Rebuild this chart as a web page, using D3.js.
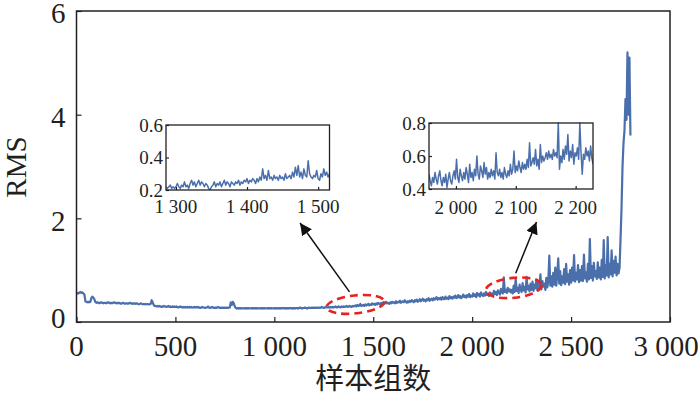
<!DOCTYPE html>
<html>
<head>
<meta charset="utf-8">
<script src="https://cdn.jsdelivr.net/npm/d3@7"></script>
<style>
  body { margin: 0; background: #fff; }
</style>
</head>
<body>
<div id="chart"></div>
<script>
// RMS of each sample group, every 5 groups starting at 0
var mainStart = 0, mainStep = 5;
var rmsMain = [
  0.54,0.56,0.55,0.57,0.58,0.56,0.57,0.55,0.53,0.40, 0.39,0.38,0.39,0.38,0.39,0.46,0.49,0.47,0.44,0.39,
  0.37,0.38,0.37,0.36,0.37,0.38,0.37,0.36,0.37,0.37, 0.36,0.37,0.38,0.37,0.36,0.37,0.36,0.37,0.38,0.37,
  0.36,0.37,0.36,0.37,0.36,0.35,0.36,0.37,0.36,0.35, 0.36,0.36,0.35,0.36,0.37,0.36,0.35,0.36,0.35,0.36,
  0.35,0.36,0.35,0.34,0.35,0.36,0.35,0.34,0.35,0.34, 0.35,0.34,0.35,0.34,0.34,0.35,0.42,0.38,0.33,0.31,
  0.31,0.30,0.31,0.30,0.31,0.30,0.29,0.30,0.31,0.30, 0.30,0.29,0.30,0.31,0.29,0.30,0.29,0.30,0.29,0.30,
  0.29,0.30,0.29,0.28,0.29,0.30,0.29,0.28,0.29,0.28, 0.29,0.28,0.29,0.28,0.29,0.28,0.29,0.28,0.28,0.29,
  0.28,0.29,0.28,0.29,0.28,0.27,0.28,0.29,0.28,0.28, 0.27,0.28,0.28,0.30,0.28,0.27,0.28,0.29,0.28,0.27,
  0.28,0.27,0.28,0.29,0.28,0.27,0.28,0.27,0.28,0.27, 0.28,0.27,0.28,0.27,0.28,0.28,0.38,0.33,0.39,0.36,
  0.30,0.27,0.26,0.27,0.26,0.27,0.26,0.27,0.26,0.26, 0.27,0.26,0.27,0.26,0.27,0.26,0.26,0.27,0.26,0.27,
  0.26,0.27,0.26,0.27,0.26,0.26,0.27,0.26,0.27,0.26, 0.27,0.26,0.26,0.27,0.26,0.27,0.26,0.27,0.26,0.26,
  0.27,0.26,0.27,0.26,0.27,0.26,0.27,0.26,0.27,0.27, 0.26,0.27,0.26,0.27,0.26,0.27,0.27,0.26,0.27,0.26,
  0.27,0.26,0.27,0.27,0.26,0.27,0.28,0.27,0.26,0.27, 0.27,0.28,0.27,0.26,0.27,0.28,0.27,0.27,0.28,0.27,
  0.28,0.27,0.28,0.27,0.28,0.28,0.27,0.28,0.29,0.28, 0.27,0.28,0.29,0.28,0.28,0.29,0.28,0.29,0.28,0.29,
  0.28,0.29,0.30,0.28,0.29,0.30,0.29,0.28,0.30,0.29, 0.30,0.29,0.30,0.31,0.29,0.30,0.31,0.30,0.29,0.31,
  0.30,0.31,0.32,0.30,0.33,0.31,0.32,0.35,0.31,0.32, 0.33,0.31,0.34,0.32,0.33,0.35,0.32,0.34,0.33,0.36,
  0.34,0.35,0.33,0.36,0.34,0.37,0.35,0.34,0.37,0.35, 0.38,0.35,0.36,0.39,0.36,0.37,0.35,0.38,0.36,0.39,
  0.37,0.38,0.36,0.40,0.37,0.39,0.38,0.41,0.37,0.39, 0.40,0.38,0.42,0.39,0.37,0.40,0.38,0.41,0.39,0.42,
  0.40,0.38,0.42,0.40,0.43,0.39,0.41,0.44,0.40,0.42, 0.45,0.41,0.43,0.40,0.44,0.42,0.46,0.41,0.43,0.45,
  0.42,0.46,0.43,0.45,0.48,0.43,0.46,0.44,0.47,0.43, 0.48,0.45,0.44,0.49,0.45,0.47,0.44,0.50,0.46,0.48,
  0.45,0.49,0.47,0.51,0.46,0.48,0.52,0.47,0.50,0.46, 0.49,0.53,0.48,0.51,0.47,0.52,0.49,0.54,0.48,0.51,
  0.49,0.55,0.50,0.53,0.48,0.56,0.51,0.54,0.49,0.57, 0.52,0.50,0.55,0.51,0.58,0.52,0.54,0.50,0.57,0.53,
  0.55,0.51,0.60,0.54,0.58,0.52,0.61,0.56,0.53,0.64, 0.57,0.55,0.86,0.58,0.62,0.56,0.66,0.59,0.63,0.57,
  0.62,0.55,0.70,0.58,0.84,0.60,0.66,0.56,0.72,0.62, 0.58,0.75,0.61,0.68,0.57,0.87,0.63,0.70,0.59,0.74,
  0.62,0.78,0.60,0.72,0.65,0.82,0.61,0.76,0.66,0.92, 0.63,0.79,0.68,0.74,0.62,0.85,0.67,0.80,1.28,0.70,
  0.88,0.68,0.95,0.72,1.05,0.70,0.90,1.23,0.74,0.98, 0.71,0.88,0.76,1.02,0.73,1.12,0.78,0.92,0.72,1.00,
  0.76,1.05,0.80,1.29,0.78,0.95,0.82,1.10,0.77,1.00, 0.80,1.08,0.79,1.30,0.84,0.96,0.78,1.12,0.82,1.60,
  0.85,1.08,0.80,1.14,0.88,0.98,0.83,1.15,0.86,1.05, 0.82,1.20,0.87,1.58,0.84,1.10,0.90,1.64,0.86,1.12,
  0.92,1.38,0.88,1.18,0.95,1.26,0.90,1.12,0.94,1.05, 1.60,2.20,3.00,3.45,3.70,4.30,3.90,5.20,4.00,5.10,
  3.60
];

// zoomed window around 1 300-1 500 (every 2 groups from 1 286)
var zoomAStart = 1286, zoomAStep = 2;
var rmsZoomA = [
  0.22,0.21,0.22,0.23,0.21,0.22,0.21,0.22,0.24,0.22,
  0.21,0.23,0.22,0.25,0.22,0.23,0.21,0.24,0.26,0.23,
  0.25,0.22,0.24,0.26,0.23,0.25,0.24,0.22,0.24,0.23,
  0.21,0.20,0.22,0.23,0.25,0.22,0.24,0.23,0.25,0.22,
  0.24,0.26,0.23,0.25,0.24,0.22,0.25,0.24,0.23,0.25,
  0.24,0.26,0.23,0.25,0.24,0.26,0.25,0.27,0.24,0.26,
  0.25,0.27,0.26,0.24,0.27,0.25,0.28,0.26,0.33,0.27,
  0.29,0.26,0.32,0.27,0.28,0.26,0.29,0.27,0.28,0.26,
  0.29,0.27,0.28,0.26,0.30,0.27,0.28,0.29,0.27,0.31,
  0.28,0.34,0.29,0.35,0.28,0.31,0.27,0.33,0.29,0.28,
  0.38,0.30,0.28,0.27,0.29,0.28,0.32,0.27,0.26,0.30,
  0.28,0.33,0.29,0.31,0.28,0.30
];

// zoomed window around 2 000-2 200 (every 2 groups from 1 955)
var zoomBStart = 1955, zoomBStep = 2;
var rmsZoomB = [
  0.49,0.45,0.42,0.47,0.44,0.50,0.46,0.43,0.48,0.51,
  0.45,0.42,0.47,0.44,0.49,0.41,0.46,0.50,0.45,0.43,
  0.48,0.51,0.46,0.58,0.47,0.44,0.52,0.48,0.45,0.50,
  0.46,0.53,0.49,0.44,0.55,0.47,0.50,0.45,0.52,0.48,
  0.60,0.49,0.46,0.54,0.51,0.47,0.56,0.49,0.53,0.46,
  0.50,0.47,0.52,0.48,0.51,0.46,0.62,0.50,0.48,0.52,
  0.47,0.50,0.46,0.53,0.49,0.47,0.51,0.48,0.55,0.49,
  0.52,0.63,0.50,0.54,0.51,0.57,0.53,0.50,0.56,0.52,
  0.55,0.52,0.58,0.53,0.68,0.54,0.56,0.59,0.55,0.64,
  0.54,0.58,0.52,0.67,0.56,0.60,0.57,0.59,0.62,0.58,
  0.63,0.59,0.61,0.58,0.64,0.60,0.62,0.59,0.80,0.52,
  0.60,0.56,0.64,0.58,0.66,0.61,0.73,0.57,0.63,0.59,
  0.67,0.55,0.62,0.60,0.65,0.58,0.80,0.62,0.49,0.61,
  0.58,0.65,0.60,0.63,0.57,0.66,0.59,0.55
];

var mainXTicks = [0, 500, 1000, 1500, 2000, 2500, 3000];
var mainYTicks = [0, 2, 4, 6];
var zoomAXTicks = [1300, 1400, 1500];
var zoomAYTicks = [0.2, 0.4, 0.6];
var zoomBXTicks = [2000, 2100, 2200];
var zoomBYTicks = [0.4, 0.6, 0.8];

var lineColor = "#4a6fab";
var serif = "Liberation Serif, Times New Roman, serif";
var textColor = "#231f20";
var width = 700, height = 398;

// "1 000" style numbers with a gap for thousands
function fmtThousands(v) {
    var s = String(v);
    if (s.length > 3) s = s.slice(0, s.length - 3) + " " + s.slice(-3);
    return s;
}

var svg = d3.select("#chart").append("svg")
    .attr("width", width)
    .attr("height", height)
    .attr("font-family", serif);

svg.append("defs").append("marker")
    .attr("id", "arrow")
    .attr("viewBox", "0 -5 10 10")
    .attr("refX", 10)
    .attr("refY", 0)
    .attr("markerWidth", 12)
    .attr("markerHeight", 12)
    .attr("markerUnits", "userSpaceOnUse")
    .attr("orient", "auto")
    .append("path")
    .attr("d", "M0,-5L10,0L0,5Z")
    .attr("fill", "#111");

//Draws one framed panel (main chart or inset)
function panel(opt) {
    var x = d3.scaleLinear().domain(opt.xDomain).range([opt.left, opt.right]);
    var y = d3.scaleLinear().domain(opt.yDomain).range([opt.bottom, opt.top]);
    var g = svg.append("g");

    var clipId = "clip" + opt.name;
    g.append("clipPath").attr("id", clipId)
        .append("rect")
        .attr("x", opt.left).attr("y", opt.top - 1)
        .attr("width", opt.right - opt.left).attr("height", opt.bottom - opt.top + 1);

    var line = d3.line()
        .x(function (d, i) { return x(opt.start + i * opt.step); })
        .y(function (d) { return y(d); });

    g.append("path")
        .datum(opt.values)
        .attr("clip-path", "url(#" + clipId + ")")
        .attr("fill", "none")
        .attr("stroke", lineColor)
        .attr("stroke-width", opt.lineWidth)
        .attr("stroke-linejoin", "round")
        .attr("d", line);

    // ticks point inward
    var xAxis = d3.axisTop(x).tickValues(opt.xTicks).tickSize(opt.tickLen).tickFormat("");
    var yAxis = d3.axisRight(y).tickValues(opt.yTicks).tickSize(opt.tickLen).tickFormat("");
    g.append("g").attr("transform", "translate(0," + opt.bottom + ")").call(xAxis)
        .call(function (a) { a.select(".domain").remove(); a.selectAll("line").attr("stroke", textColor).attr("stroke-width", 1.2); });
    g.append("g").attr("transform", "translate(" + opt.left + ",0)").call(yAxis)
        .call(function (a) { a.select(".domain").remove(); a.selectAll("line").attr("stroke", textColor).attr("stroke-width", 1.2); });

    g.append("rect")
        .attr("x", opt.left).attr("y", opt.top)
        .attr("width", opt.right - opt.left).attr("height", opt.bottom - opt.top)
        .attr("fill", "none")
        .attr("stroke", textColor)
        .attr("stroke-width", opt.frameWidth);

    g.selectAll(".xl").data(opt.xTicks).enter().append("text")
        .attr("x", function (d) { return Math.min(x(d), opt.xLabelMax); })
        .attr("y", opt.bottom + opt.xLabelDy)
        .attr("text-anchor", "middle")
        .attr("font-family", serif)
        .attr("font-size", opt.fontSize)
        .attr("fill", textColor)
        .text(fmtThousands);

    g.selectAll(".yl").data(opt.yTicks).enter().append("text")
        .attr("x", opt.left - opt.yLabelDx)
        .attr("y", function (d, i) { return y(d) + (i === 0 ? opt.firstYShift : 0); })
        .attr("dy", opt.yLabelDy)
        .attr("text-anchor", "end")
        .attr("font-family", serif)
        .attr("font-size", opt.fontSize)
        .attr("fill", textColor)
        .text(opt.yFormat);

    return { x: x, y: y };
}

var main = panel({
    name: "main", values: rmsMain, start: mainStart, step: mainStep,
    xDomain: [0, 3000], yDomain: [0, 6],
    left: 76.5, right: 670, top: 11, bottom: 322,
    xTicks: mainXTicks, yTicks: mainYTicks, tickLen: 5,
    lineWidth: 2.2, frameWidth: 1.5, fontSize: 29,
    xLabelDy: 34, xLabelMax: 666, yLabelDx: 11, yLabelDy: "0.42em", firstYShift: -6,
    yFormat: function (d) { return d; }
});

panel({
    name: "a", values: rmsZoomA, start: zoomAStart, step: zoomAStep,
    xDomain: [1286, 1516], yDomain: [0.2, 0.6],
    left: 166, right: 329.5, top: 125, bottom: 190,
    xTicks: zoomAXTicks, yTicks: zoomAYTicks, tickLen: 3,
    lineWidth: 1.5, frameWidth: 1.3, fontSize: 19,
    xLabelDy: 23, xLabelMax: 999, yLabelDx: 3, yLabelDy: "0.35em", firstYShift: 0,
    yFormat: d3.format(".1f")
});

panel({
    name: "b", values: rmsZoomB, start: zoomBStart, step: zoomBStep,
    xDomain: [1955, 2229], yDomain: [0.4, 0.8],
    left: 429, right: 593, top: 123, bottom: 189,
    xTicks: zoomBXTicks, yTicks: zoomBYTicks, tickLen: 3,
    lineWidth: 1.5, frameWidth: 1.3, fontSize: 19,
    xLabelDy: 25, xLabelMax: 999, yLabelDx: 3, yLabelDy: "0.35em", firstYShift: 0,
    yFormat: d3.format(".1f")
});

// axis titles
svg.append("text")
    .attr("transform", "translate(26,167) rotate(-90)")
    .attr("text-anchor", "middle")
    .attr("font-family", serif)
    .attr("font-size", 29)
    .attr("fill", textColor)
    .text("RMS");

svg.append("text")
    .attr("x", (76.5 + 670) / 2)
    .attr("y", 389)
    .attr("text-anchor", "middle")
    .attr("font-family", "Liberation Serif, Noto Sans CJK SC, serif")
    .attr("font-size", 29)
    .attr("fill", textColor)
    .text("样本组数");

// red dashed ellipses marking the zoomed windows
var marks = [
    { cx: 1410, cy: 0.34, rx: 29, ry: 9, rot: -6 },
    { cx: 2210, cy: 0.66, rx: 28, ry: 10, rot: -6 }
];
svg.selectAll(".mark").data(marks).enter().append("ellipse")
    .attr("cx", 0).attr("cy", 0)
    .attr("rx", function (d) { return d.rx; })
    .attr("ry", function (d) { return d.ry; })
    .attr("transform", function (d) {
        return "translate(" + main.x(d.cx) + "," + main.y(d.cy) + ") rotate(" + d.rot + ")";
    })
    .attr("fill", "none")
    .attr("stroke", "#e8231f")
    .attr("stroke-width", 2.6)
    .attr("stroke-dasharray", "8,5");

// arrows from the ellipses to the insets
var arrows = [
    { x1: 1380, y1: 0.58, x2: 1130, y2: 1.91 },
    { x1: 2220, y1: 0.94, x2: 2325, y2: 1.93 }
];
svg.selectAll(".arrow").data(arrows).enter().append("line")
    .attr("x1", function (d) { return main.x(d.x1); })
    .attr("y1", function (d) { return main.y(d.y1); })
    .attr("x2", function (d) { return main.x(d.x2); })
    .attr("y2", function (d) { return main.y(d.y2); })
    .attr("stroke", "#111")
    .attr("stroke-width", 1.5)
    .attr("marker-end", "url(#arrow)");
</script>
</body>
</html>
